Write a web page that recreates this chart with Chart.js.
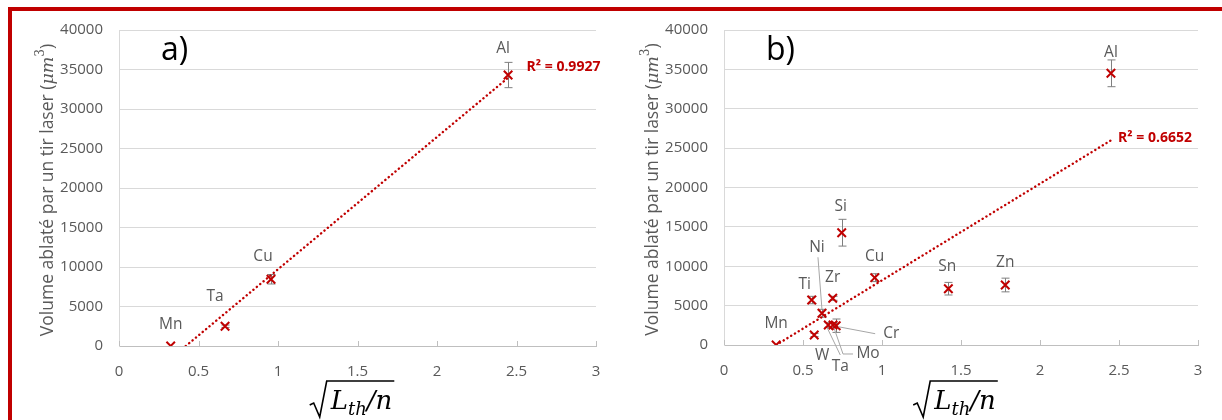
<!DOCTYPE html>
<html>
<head>
<meta charset="utf-8">
<script src="https://cdn.jsdelivr.net/npm/chart.js@4.4.0/dist/chart.umd.min.js"></script>
<style>
  html,body{margin:0;padding:0;background:#fff;overflow:hidden;width:1222px;height:420px;}
  #frame{position:absolute;left:8px;top:7px;width:1400px;height:600px;border:4px solid #c00000;}
  .panel{position:absolute;top:0;width:611px;height:420px;}
  #pa{left:0} #pb{left:611px}
</style>
</head>
<body>
<div id="frame"></div>
<div class="panel" id="pa"><canvas id="chartA" width="611" height="420"></canvas></div>
<div class="panel" id="pb"><canvas id="chartB" width="611" height="420"></canvas></div>
<script>
// shared axes
const xTicks = [0, 0.5, 1, 1.5, 2, 2.5, 3];
const yTicks = [0, 5000, 10000, 15000, 20000, 25000, 30000, 35000, 40000];

// panel a)
const elemA = ['Mn', 'Ta', 'Cu', 'Al'];
const xA    = [0.325, 0.667, 0.956, 2.447];
const yA    = [0, 2500, 8450, 34300];
const errA  = [0, 150, 600, 1600];
const trendAx = [0.42, 2.45];
const trendAy = [0, 34000];
const r2A = 'R² = 0.9927';

// panel b)
const elemB = ['Mn', 'W', 'Ti', 'Ni', 'Ta', 'Zr', 'Mo', 'Cr', 'Si', 'Cu', 'Sn', 'Zn', 'Al'];
const xB    = [0.33, 0.571, 0.555, 0.62, 0.66, 0.688, 0.69, 0.71, 0.745, 0.954, 1.42, 1.78, 2.449];
const yB    = [0, 1270, 5710, 4030, 2540, 5930, 2540, 2450, 14260, 8550, 7150, 7620, 34500];
const errB  = [0, 200, 470, 500, 300, 250, 300, 850, 1700, 500, 800, 870, 1700];
const trendBx = [0.33, 2.45];
const trendBy = [0, 26000];
const r2B = 'R² = 0.6652';

const RED = '#c00000';
const GRAY = '#595959';
const SANS = '"Open Sans", sans-serif';
const SERIF = '"DejaVu Serif", serif';

// label placement (pixel offsets from the marker), default is just above
const offA = { Ta: [-10, -30], Cu: [-8, -23], Al: [-5, -26] };
const offB = { Ti: [-7, -15], Ni: [-5, -66], Si: [-1, -26], Sn: [-1, -22], Zn: [0, -22],
               Cr: [55, 8], Mo: [35, 29], Ta: [12, 42], W: [8, 21] };
const leadB = { Ni: [[-4, -56], [0, -4]], Cr: [[2, 1], [39, 8]],
                Mo: [[1, 3], [10, 29], [20, 29]], Ta: [[-1, 3], [12, 30]] };

const deco = {
  id: 'deco',
  beforeDatasetsDraw(chart, args, o) {
    const { ctx, chartArea: ca, scales: { x, y } } = chart;
    const pts = chart.data.datasets[0].data;
    ctx.save();
    ctx.lineWidth = 1;
    ctx.strokeStyle = '#bfbfbf';
    x.ticks.forEach(t => {
      const px = Math.round(x.getPixelForValue(t.value)) + 0.5;
      ctx.beginPath(); ctx.moveTo(px, ca.bottom); ctx.lineTo(px, ca.bottom - 5); ctx.stroke();
    });
    ctx.strokeStyle = '#7f7f7f';
    o.errs.forEach((e, i) => {
      if (!e) return;
      const px = Math.round(x.getPixelForValue(pts[i].x)) + 0.5;
      const y1 = y.getPixelForValue(pts[i].y + e), y2 = y.getPixelForValue(pts[i].y - e);
      ctx.beginPath();
      ctx.moveTo(px, y1); ctx.lineTo(px, y2);
      ctx.moveTo(px - 4, y1); ctx.lineTo(px + 4, y1);
      ctx.moveTo(px - 4, y2); ctx.lineTo(px + 4, y2);
      ctx.stroke();
    });
    ctx.restore();
  },
  afterDraw(chart, args, o) {
    const { ctx, chartArea: ca, scales: { x, y } } = chart;
    const pts = chart.data.datasets[0].data;
    const tr = chart.data.datasets[1].data;
    ctx.save();
    // leader lines
    ctx.strokeStyle = '#a6a6a6'; ctx.lineWidth = 1;
    o.names.forEach((n, i) => {
      const L = o.leaders[n]; if (!L) return;
      const px = x.getPixelForValue(pts[i].x), py = y.getPixelForValue(pts[i].y);
      ctx.beginPath();
      L.forEach((d, k) => k ? ctx.lineTo(px + d[0], py + d[1]) : ctx.moveTo(px + d[0], py + d[1]));
      ctx.stroke();
    });
    // data labels
    ctx.fillStyle = GRAY; ctx.font = '15.5px ' + SANS;
    ctx.textAlign = 'center'; ctx.textBaseline = 'middle';
    o.names.forEach((n, i) => {
      const d = o.offsets[n] || [0, -21];
      ctx.fillText(n, x.getPixelForValue(pts[i].x) + d[0], y.getPixelForValue(pts[i].y) + d[1]);
    });
    // R² label
    const end = tr[tr.length - 1];
    ctx.fillStyle = RED; ctx.font = 'bold 14px ' + SANS; ctx.textAlign = 'left';
    ctx.fillText(o.r2, x.getPixelForValue(end.x) + o.r2Off[0], y.getPixelForValue(end.y) + o.r2Off[1]);
    // panel letter
    ctx.fillStyle = '#000'; ctx.font = '32px ' + SANS; ctx.textBaseline = 'alphabetic';
    ctx.fillText(o.letter, ca.left + 42, 60);
    // y title with (µm³)
    ctx.fillStyle = GRAY;
    const parts = [
      { t: 'Volume ablaté par un tir laser (', f: '17.5px ' + SANS, dy: 0 },
      { t: 'μm', f: 'italic 17.5px ' + SERIF, dy: 0 },
      { t: '3', f: '12px ' + SERIF, dy: -7 },
      { t: ')', f: '17.5px ' + SANS, dy: 0 }
    ];
    let w = 0;
    parts.forEach(p => { ctx.font = p.f; p.w = ctx.measureText(p.t).width; w += p.w; });
    ctx.translate(ca.left - 72, (ca.top + ca.bottom) / 2 + 2);
    ctx.rotate(-Math.PI / 2);
    let cx = -w / 2;
    ctx.textBaseline = 'middle';
    parts.forEach(p => { ctx.font = p.f; ctx.fillText(p.t, cx, p.dy + 1); cx += p.w; });
    ctx.setTransform(1, 0, 0, 1, 0, 0);
    // x title: sqrt(L_th / n)
    ctx.fillStyle = '#000'; ctx.strokeStyle = '#000';
    ctx.textBaseline = 'alphabetic';
    const xs = [
      { t: 'L', f: 'italic 26px ' + SERIF, dy: 0 },
      { t: 'th', f: 'italic 18px ' + SERIF, dy: 6 },
      { t: '/', f: 'italic 26px ' + SERIF, dy: 0 },
      { t: 'n', f: 'italic 26px ' + SERIF, dy: 0 }
    ];
    let tw = 0;
    xs.forEach(p => { ctx.font = p.f; p.w = ctx.measureText(p.t).width; tw += p.w; });
    const base = 409;
    let tx = (ca.left + ca.right) / 2 - 6 - tw / 2 + 10;
    const x0 = tx;
    xs.forEach(p => { ctx.font = p.f; ctx.fillText(p.t, tx, base + p.dy); tx += p.w; });
    ctx.lineWidth = 1.6;
    ctx.beginPath();
    ctx.moveTo(x0 - 21, base - 4);
    ctx.lineTo(x0 - 17, base - 6);
    ctx.lineTo(x0 - 11, base + 8);
    ctx.lineTo(x0 - 4, base - 28);
    ctx.lineTo(tx + 2, base - 28);
    ctx.stroke();
    ctx.restore();
  }
};

function makeChart(id, c) {
  return new Chart(document.getElementById(id), {
    type: 'scatter',
    data: {
      datasets: [
        { data: c.xs.map((v, i) => ({ x: v, y: c.ys[i] })), pointStyle: 'crossRot', pointRadius: 6,
          pointHoverRadius: 6, pointBorderWidth: 2, borderColor: RED, backgroundColor: RED },
        { data: c.tx.map((v, i) => ({ x: v, y: c.ty[i] })), showLine: true, pointRadius: 0,
          borderColor: RED, borderWidth: 2.4, borderDash: [0.1, 4.3], borderCapStyle: 'round' }
      ]
    },
    options: {
      responsive: false, animation: false, events: [],
      layout: { padding: { left: 0, right: c.padRight, top: 30, bottom: 0 } },
      plugins: {
        legend: { display: false }, tooltip: { enabled: false },
        deco: { names: c.names, errs: c.errs, offsets: c.offsets, leaders: c.leaders,
                r2: c.r2, r2Off: c.r2Off, letter: c.letter }
      },
      scales: {
        x: {
          type: 'linear', min: 0, max: 3,
          afterBuildTicks: s => { s.ticks = xTicks.map(v => ({ value: v })); },
          afterFit: s => { s.height = c.xHeight; },
          grid: { display: false },
          border: { display: true, color: '#bfbfbf', width: 1 },
          ticks: { color: GRAY, font: { family: SANS, size: 15 }, padding: 9, maxRotation: 0,
                   autoSkip: false, callback: v => String(v) }
        },
        y: {
          type: 'linear', min: 0, max: 40000,
          afterBuildTicks: s => { s.ticks = yTicks.map(v => ({ value: v })); },
          afterFit: s => { s.width = c.yWidth; },
          grid: { color: '#d9d9d9', drawTicks: false },
          border: { display: true, color: '#d9d9d9', width: 1 },
          ticks: { color: GRAY, font: { family: SANS, size: 15 }, padding: 16, callback: v => String(v) }
        }
      }
    },
    plugins: [deco]
  });
}

makeChart('chartA', { names: elemA, xs: xA, ys: yA, errs: errA, tx: trendAx, ty: trendAy,
  offsets: offA, leaders: {}, r2: r2A, r2Off: [18, -10], letter: 'a)',
  padRight: 15, xHeight: 74, yWidth: 119 });
makeChart('chartB', { names: elemB, xs: xB, ys: yB, errs: errB, tx: trendBx, ty: trendBy,
  offsets: offB, leaders: leadB, r2: r2B, r2Off: [7, -2], letter: 'b)',
  padRight: 24, xHeight: 75, yWidth: 113 });
</script>
</body>
</html>
